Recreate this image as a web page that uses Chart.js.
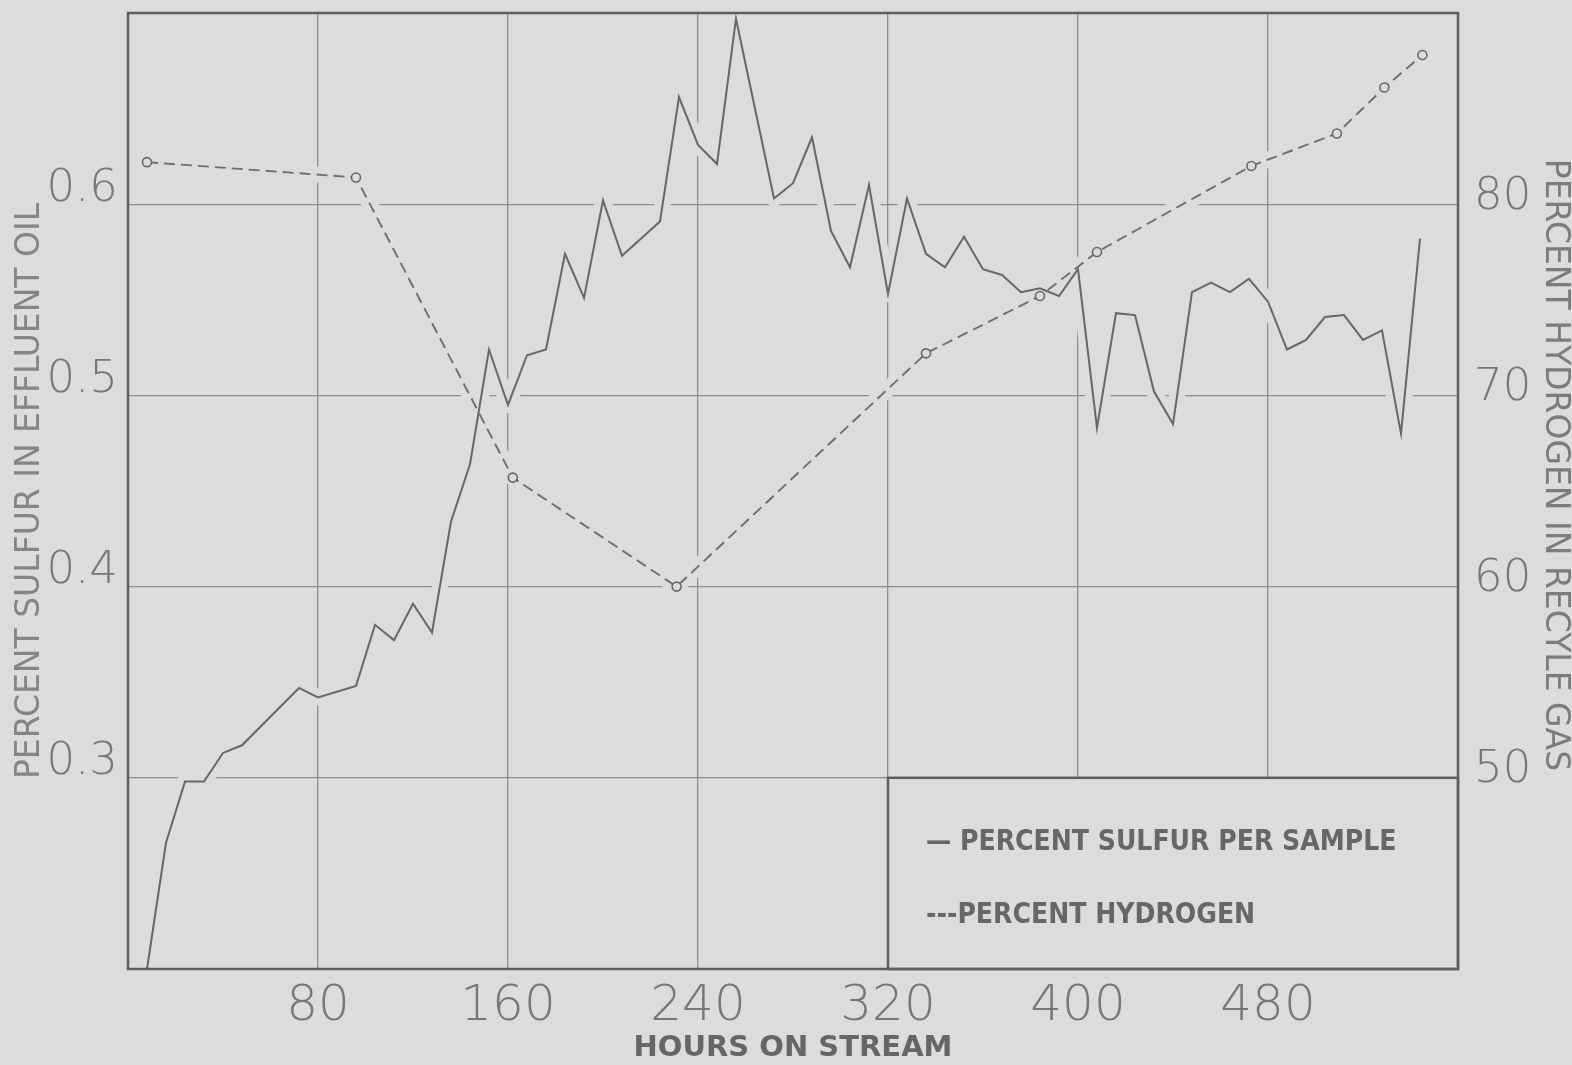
<!DOCTYPE html>
<html>
<head>
<meta charset="utf-8">
<title>Percent sulfur and hydrogen vs hours on stream</title>
<script src="https://cdn.jsdelivr.net/npm/chart.js@4.4.1/dist/chart.umd.min.js"></script>
<style>
  html, body { margin: 0; padding: 0; background: #dcdcdc; }
  #wrap { width: 1572px; height: 1065px; }
  canvas { display: block; }
</style>
</head>
<body>
<div id="wrap"><canvas id="chart" width="1572" height="1065"></canvas></div>
<script>
// Sulfur in effluent oil, one sample every 8 hours on stream
const sampleHours = [8, 16, 24, 32, 40, 48, 72, 80, 96, 104, 112, 120, 128, 136, 144, 152, 160, 168, 176, 184,
  192, 200, 208, 224, 232, 240, 248, 256, 272, 280, 288, 296, 304, 312, 320, 328, 336, 344, 352, 360,
  368, 376, 384, 392, 400, 408, 416, 424, 432, 440, 448, 456, 464, 472, 480, 488, 496, 504, 512, 520,
  528, 536, 544];
const sulfurPercent = [0.200, 0.266, 0.298, 0.298, 0.313, 0.317, 0.347, 0.342, 0.348, 0.380, 0.372, 0.391, 0.376, 0.434, 0.464, 0.524, 0.495, 0.521, 0.524, 0.574,
  0.551, 0.602, 0.573, 0.591, 0.656, 0.631, 0.621, 0.697, 0.603, 0.611, 0.635, 0.586, 0.567, 0.610, 0.553, 0.603, 0.574, 0.567, 0.583, 0.566,
  0.563, 0.554, 0.556, 0.552, 0.566, 0.483, 0.543, 0.542, 0.502, 0.485, 0.554, 0.559, 0.554, 0.561, 0.549, 0.524, 0.529, 0.541, 0.542, 0.529,
  0.534, 0.480, 0.582];

// Hydrogen in recycle gas
const gasHours = [8, 96, 162, 231, 336, 384, 408, 473, 509, 529, 545];
const hydrogenPercent = [82.2, 81.4, 65.7, 60.0, 72.2, 75.2, 77.5, 82.0, 83.7, 86.1, 87.8];

// Axis ticks
const hourTicks = [80, 160, 240, 320, 400, 480];
const sulfurTicks = [0.3, 0.4, 0.5, 0.6];
const hydrogenTicks = [50, 60, 70, 80];

const legendLines = ['\u2014 PERCENT SULFUR PER SAMPLE', '---PERCENT HYDROGEN'];

const PAPER = '#dcdcdc';
const INK = '#676767';
const GRID = '#8c8c8c';
const LABEL_FONT = "'DejaVu Sans', sans-serif";

const toPoints = (xs, ys) => xs.map((x, i) => ({ x, y: ys[i] }));
const fixedTicks = list => scale => { scale.ticks = list.map(v => ({ value: v })); };
const noEdgePadding = s => { s.paddingTop = 0; s.paddingBottom = 0; s.paddingLeft = 0; s.paddingRight = 0; };

// paper background
const paper = {
  id: 'paper',
  beforeDraw(chart) {
    const { ctx, width, height } = chart;
    ctx.save();
    ctx.fillStyle = PAPER;
    ctx.fillRect(0, 0, width, height);
    ctx.restore();
  }
};

// grid lines are broken where a curve crosses them, and the key box sits in the lower right
const gridBreaksAndKey = {
  id: 'gridBreaksAndKey',
  beforeDatasetsDraw(chart) {
    const { ctx, chartArea: a, scales } = chart;
    ctx.save();
    ctx.beginPath();
    ctx.rect(a.left + 2, a.top + 2, a.right - a.left - 4, a.bottom - a.top - 4);
    ctx.clip();
    ctx.strokeStyle = PAPER;
    ctx.lineWidth = 16;
    ctx.lineJoin = 'round';
    ctx.lineCap = 'round';
    chart.data.datasets.forEach((ds, i) => {
      const pts = chart.getDatasetMeta(i).data;
      ctx.beginPath();
      pts.forEach((p, j) => (j ? ctx.lineTo(p.x, p.y) : ctx.moveTo(p.x, p.y)));
      ctx.stroke();
    });
    ctx.restore();

    // key box spans 320 h .. end, 0.2 .. 0.3 % S
    const x0 = scales.x.getPixelForValue(320);
    const y0 = scales.y.getPixelForValue(0.3);
    const x1 = a.right, y1 = a.bottom;
    ctx.save();
    ctx.fillStyle = PAPER;
    ctx.fillRect(x0, y0, x1 - x0, y1 - y0);
    ctx.strokeStyle = '#5e5e5e';
    ctx.lineWidth = 2.5;
    ctx.strokeRect(x0, y0, x1 - x0, y1 - y0);
    ctx.fillStyle = INK;
    ctx.font = "bold 28px 'DejaVu Sans Condensed', 'DejaVu Sans', sans-serif";
    ctx.textAlign = 'left';
    ctx.textBaseline = 'middle';
    const h = y1 - y0;
    ctx.fillText(legendLines[0], x0 + 38, y0 + h * 0.34);
    ctx.fillText(legendLines[1], x0 + 38, y0 + h * 0.72);
    ctx.restore();
  },
  afterDatasetsDraw(chart) {
    const { ctx, chartArea: a } = chart;
    ctx.save();
    ctx.strokeStyle = '#5e5e5e';
    ctx.lineWidth = 2.5;
    ctx.strokeRect(a.left, a.top, a.right - a.left, a.bottom - a.top);
    ctx.restore();
  },
  afterDraw(chart) {
    // right-hand axis title, reading downward
    const { ctx } = chart;
    const s = chart.scales.y2;
    ctx.save();
    ctx.translate(s.right - 17, (s.top + s.bottom) / 2 - 26);
    ctx.rotate(Math.PI / 2);
    ctx.fillStyle = '#7c7c7c';
    ctx.font = "33px " + LABEL_FONT;
    ctx.textAlign = 'center';
    ctx.textBaseline = 'middle';
    ctx.fillText('PERCENT HYDROGEN IN RECYLE GAS', 0, 0);
    ctx.restore();
  }
};

const xTickFont = { family: LABEL_FONT, size: 50, weight: 200 };
const yTickFont = { family: LABEL_FONT, size: 45, weight: 200 };

new Chart(document.getElementById('chart'), {
  type: 'line',
  data: {
    datasets: [
      {
        label: 'PERCENT SULFUR PER SAMPLE',
        data: toPoints(sampleHours, sulfurPercent),
        yAxisID: 'y',
        borderColor: INK,
        borderWidth: 2,
        pointRadius: 0,
        tension: 0
      },
      {
        label: 'PERCENT HYDROGEN',
        data: toPoints(gasHours, hydrogenPercent),
        yAxisID: 'y2',
        borderColor: '#6e6e6e',
        borderWidth: 1.9,
        borderDash: [11, 6],
        pointRadius: 4.5,
        pointBorderWidth: 1.6,
        pointBorderColor: INK,
        pointBackgroundColor: PAPER,
        tension: 0
      }
    ]
  },
  options: {
    responsive: false,
    animation: false,
    devicePixelRatio: 1,
    layout: { padding: { top: 13, left: 0, right: 0, bottom: 0 } },
    plugins: { legend: { display: false }, tooltip: { enabled: false } },
    events: [],
    scales: {
      x: {
        type: 'linear',
        position: 'bottom',
        min: 0,
        max: 560,
        afterBuildTicks: fixedTicks(hourTicks),
        afterFit: s => { s.height = 96; noEdgePadding(s); },
        grid: { color: GRID, lineWidth: 1.3, drawTicks: false },
        border: { display: false },
        ticks: { font: xTickFont, color: '#777777', padding: 8, maxRotation: 0, callback: v => String(v) },
        title: {
          display: true,
          text: 'HOURS ON STREAM',
          color: '#666666',
          font: { family: LABEL_FONT, size: 29, weight: 'bold', lineHeight: 1 },
          padding: { top: 0, bottom: 2 }
        }
      },
      y: {
        type: 'linear',
        position: 'left',
        min: 0.2,
        max: 0.7,
        afterBuildTicks: fixedTicks(sulfurTicks),
        afterFit: s => { s.width = 128; noEdgePadding(s); },
        grid: { color: GRID, lineWidth: 1.3, drawTicks: false },
        border: { display: false },
        ticks: { font: yTickFont, color: '#777777', padding: 10, labelOffset: -15, callback: v => String(v) },
        title: {
          display: true,
          text: 'PERCENT SULFUR IN EFFLUENT OIL',
          color: '#858585',
          font: { family: LABEL_FONT, size: 33, weight: 'normal', lineHeight: 1 },
          padding: { top: 14, bottom: 0 }
        }
      },
      y2: {
        type: 'linear',
        position: 'right',
        min: 40,
        max: 90,
        afterBuildTicks: fixedTicks(hydrogenTicks),
        afterFit: s => { s.width = 114; noEdgePadding(s); },
        grid: { display: false, drawTicks: false },
        border: { display: false },
        ticks: { font: yTickFont, color: '#777777', padding: 16, labelOffset: -7, callback: v => String(v) }
      }
    }
  },
  plugins: [paper, gridBreaksAndKey]
});
</script>
</body>
</html>
